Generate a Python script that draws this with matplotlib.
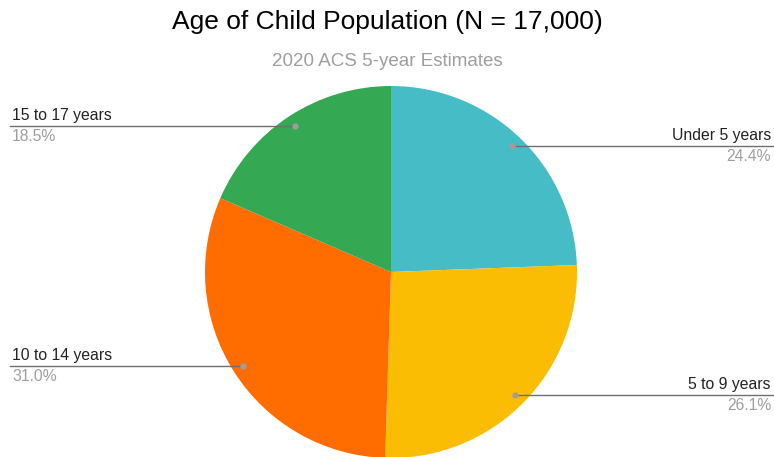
import numpy as np
import matplotlib.pyplot as plt

plt.rcParams['font.family'] = ['Liberation Sans', 'DejaVu Sans']

labels = ['Under 5 years', '5 to 9 years', '10 to 14 years', '15 to 17 years']
shares = [24.4, 26.1, 31.0, 18.5]
colors = ['#46bdc6', '#fbbc04', '#ff6d01', '#34a853']
sides = ['right', 'right', 'left', 'left']

W, H = 774, 457
fig = plt.figure(figsize=(W / 100, H / 100), dpi=100)
ax = fig.add_axes([0, 0, 1, 1])
ax.set_xlim(0, W)
ax.set_ylim(0, H)
ax.set_aspect('equal')
ax.axis('off')

cx, cy, r = 391, H - 272, 186
ax.pie(shares, colors=colors, startangle=90, counterclock=False,
       center=(cx, cy), radius=r, wedgeprops=dict(linewidth=0))
ax.set_xlim(0, W)
ax.set_ylim(0, H)

total = sum(shares)
cum = 0
for lab, s, side in zip(labels, shares, sides):
    mid = (cum + s / 2) / total
    cum += s
    ang = np.deg2rad(90 - 360 * mid)
    px = cx + 0.94 * r * np.cos(ang)
    py = cy + 0.94 * r * np.sin(ang)
    xe = W if side == 'right' else 10
    ax.plot([px, xe], [py, py], color='#6f6f6f', lw=1, zorder=3)
    ax.plot(px, py, 'o', color='#9e9e9e', ms=3.5, zorder=4)
    if side == 'right':
        tx, ha = W - 3, 'right'
    else:
        tx, ha = 12, 'left'
    ax.text(tx, py + 3, lab, ha=ha, va='bottom', fontsize=11.3, color='#222222')
    ax.text(tx, py - 3, f'{s:.1f}%', ha=ha, va='top', fontsize=11.3, color='#9e9e9e')

fig.text(0.5, 1 - 22 / H, 'Age of Child Population (N = 17,000)', ha='center',
         va='center', fontsize=19, color='#000000')
fig.text(0.5, 1 - 61 / H, '2020 ACS 5-year Estimates', ha='center',
         va='center', fontsize=13.5, color='#9e9e9e')

fig.savefig('out.png', dpi=100, facecolor='white')
